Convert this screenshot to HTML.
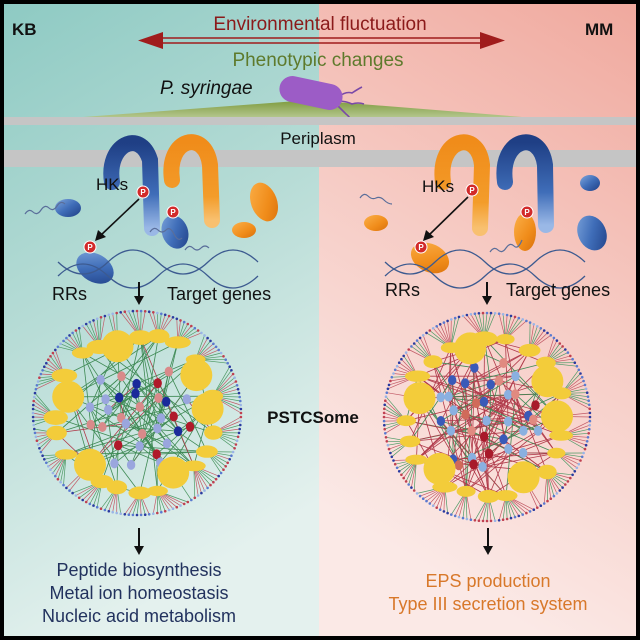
<!DOCTYPE html>
<html><head><meta charset="utf-8"><style>
html,body{margin:0;padding:0;background:#000}
svg{display:block}
text{font-family:"Liberation Sans",sans-serif}
</style></head><body>
<svg id="s" width="640" height="640" viewBox="0 0 640 640" xmlns="http://www.w3.org/2000/svg">
<defs>
<linearGradient id="gl" x1="0" y1="0" x2="0.3" y2="1"><stop offset="0" stop-color="#8ecac3"/><stop offset="0.5" stop-color="#b7dcd6"/><stop offset="1" stop-color="#e4f1ee"/></linearGradient>
<linearGradient id="gr" x1="1" y1="0" x2="0.7" y2="1"><stop offset="0" stop-color="#f0a99e"/><stop offset="0.5" stop-color="#f6cbc4"/><stop offset="1" stop-color="#fbe9e6"/></linearGradient>
<linearGradient id="blue" x1="0" y1="0" x2="1" y2="1"><stop offset="0" stop-color="#7fa6dc"/><stop offset="0.5" stop-color="#3f6db8"/><stop offset="1" stop-color="#1f3f85"/></linearGradient>
<linearGradient id="or" x1="0" y1="0" x2="1" y2="1"><stop offset="0" stop-color="#fbb04a"/><stop offset="0.6" stop-color="#f08c1a"/><stop offset="1" stop-color="#d8700c"/></linearGradient>
<linearGradient id="hkb" x1="0" y1="0" x2="0" y2="1"><stop offset="0" stop-color="#1f3f85"/><stop offset="0.6" stop-color="#3f6db8"/><stop offset="1" stop-color="#9ab8e6"/></linearGradient>
<linearGradient id="hko" x1="0" y1="0" x2="0" y2="1"><stop offset="0" stop-color="#f08c1a"/><stop offset="0.7" stop-color="#f39c2a"/><stop offset="1" stop-color="#f8c070"/></linearGradient>
<linearGradient id="mound" x1="0" y1="0" x2="0" y2="1"><stop offset="0" stop-color="#7d9a3c"/><stop offset="1" stop-color="#b6c890"/></linearGradient>
</defs>
<rect x="0" y="0" width="640" height="640" fill="#000"/>
<rect x="4" y="4" width="315" height="632" fill="url(#gl)"/>
<rect x="319" y="4" width="317" height="632" fill="url(#gr)"/>

<text x="12" y="35" font-size="17" font-weight="bold" fill="#111">KB</text>
<text x="585" y="35" font-size="17" font-weight="bold" fill="#111">MM</text>
<text x="320" y="30" font-size="19" fill="#8b1a1a" text-anchor="middle">Environmental fluctuation</text>
<g stroke="#a01c1c" stroke-width="1.6">
<line x1="158" y1="38" x2="485" y2="38"/><line x1="158" y1="43" x2="485" y2="43"/></g>
<polygon points="138,40.5 163,32 163,49" fill="#a01c1c"/>
<polygon points="505,40.5 480,32 480,49" fill="#a01c1c"/>
<text x="318" y="66" font-size="19" fill="#5e7a2c" text-anchor="middle">Phenotypic changes</text>
<text x="160" y="94" font-size="19" font-style="italic" fill="#111">P. syringae</text>
<polygon points="70,118 310,100 535,118" fill="url(#mound)"/>
<g fill="none" stroke="#7a4aa8" stroke-width="1.6">
<path d="M338,97 q8,-6 14,-4 q6,-4 10,-6"/><path d="M338,101 q8,0 14,3 q6,-2 12,0"/><path d="M336,104 q6,6 10,10 q4,3 6,8"/></g>
<rect x="279" y="80" width="64" height="26" rx="13" fill="#9c5cc6" transform="rotate(12 311 93)"/>
<rect x="4" y="117" width="632" height="8" fill="#c5c5c5"/>
<text x="318" y="144" font-size="17" fill="#111" text-anchor="middle">Periplasm</text>
<rect x="4" y="150" width="632" height="17" fill="#c5c5c5"/>

<!-- HKs -->
<path d="M112,182 C106,145 140,128 150,160 L152,228" fill="none" stroke="url(#hkb)" stroke-width="16" stroke-linecap="round"/>
<path d="M172,180 C166,138 205,128 210,165 L212,220" fill="none" stroke="url(#hko)" stroke-width="16" stroke-linecap="round"/>
<path d="M443,182 C437,138 478,128 482,165 L480,228" fill="none" stroke="url(#hko)" stroke-width="16" stroke-linecap="round"/>
<path d="M505,182 C499,138 540,128 545,165 L546,225" fill="none" stroke="url(#hkb)" stroke-width="16" stroke-linecap="round"/>
<text x="96" y="190" font-size="17" fill="#111">HKs</text>
<text x="422" y="192" font-size="17" fill="#111">HKs</text>

<!-- blobs -->
<g>
<ellipse cx="68" cy="208" rx="13" ry="9" fill="url(#blue)"/>
<ellipse cx="175" cy="232" rx="13" ry="17" fill="url(#blue)" transform="rotate(-20 175 232)"/>
<ellipse cx="264" cy="202" rx="13" ry="20" fill="url(#or)" transform="rotate(-20 264 202)"/>
<ellipse cx="244" cy="230" rx="12" ry="8" fill="url(#or)"/>
<ellipse cx="95" cy="268" rx="20" ry="14" fill="url(#blue)" transform="rotate(30 95 268)"/>
<ellipse cx="376" cy="223" rx="12" ry="8" fill="url(#or)"/>
<ellipse cx="430" cy="258" rx="20" ry="14" fill="url(#or)" transform="rotate(25 430 258)"/>
<ellipse cx="525" cy="232" rx="11" ry="19" fill="url(#or)"/>
<ellipse cx="590" cy="183" rx="10" ry="8" fill="url(#blue)"/>
<ellipse cx="592" cy="233" rx="14" ry="18" fill="url(#blue)" transform="rotate(-25 592 233)"/>
</g>
<!-- DNA -->
<g fill="none" stroke="#3c5a90" stroke-width="1.3">
<path d="M58,276 q25,-24 50,0 t50,0 t50,0 t50,0"/><path d="M58,262 q25,24 50,0 t50,0 t50,0 t50,0"/>
<path d="M385,276 q25,-24 50,0 t50,0 t50,0 t50,0"/><path d="M385,262 q25,24 50,0 t50,0 t50,0 t50,0"/>
</g>
<g fill="none" stroke="#5a6e9a" stroke-width="1.2">
<path d="M25,214 q4,-6 8,-2 t8,-2 t8,-2 t8,-2 t8,-2"/>
<path d="M150,232 q4,-6 8,-2 t8,0 t8,4 t8,4"/><path d="M185,250 q4,-6 8,-2 t8,0 t8,0"/>
<path d="M360,198 q4,-6 8,-2 t8,2 t8,2 t8,4"/><path d="M490,252 q4,-6 8,-2 t8,-2 t8,-2 t8,-6"/>
</g>
<!-- P circles -->
<g font-size="8" text-anchor="middle" font-weight="bold">
<g><circle cx="143" cy="192" r="6" fill="#d22a2a" stroke="#fff" stroke-width="1"/><text x="143" y="195" fill="#fff">P</text></g>
<g><circle cx="90" cy="247" r="6" fill="#d22a2a" stroke="#fff" stroke-width="1"/><text x="90" y="250" fill="#fff">P</text></g>
<g><circle cx="173" cy="212" r="6" fill="#d22a2a" stroke="#fff" stroke-width="1"/><text x="173" y="215" fill="#fff">P</text></g>
<g><circle cx="472" cy="190" r="6" fill="#d22a2a" stroke="#fff" stroke-width="1"/><text x="472" y="193" fill="#fff">P</text></g>
<g><circle cx="421" cy="247" r="6" fill="#d22a2a" stroke="#fff" stroke-width="1"/><text x="421" y="250" fill="#fff">P</text></g>
<g><circle cx="527" cy="212" r="6" fill="#d22a2a" stroke="#fff" stroke-width="1"/><text x="527" y="215" fill="#fff">P</text></g>
</g>
<g stroke="#111" stroke-width="1.6"><line x1="139" y1="199" x2="100" y2="236"/><line x1="468" y1="197" x2="428" y2="236"/></g>
<polygon points="95,241 98,230 106,237" fill="#111"/>
<polygon points="423,241 426,230 434,237" fill="#111"/>
<text x="52" y="300" font-size="18" fill="#111">RRs</text>
<text x="167" y="300" font-size="18" fill="#111">Target genes</text>
<text x="385" y="296" font-size="18" fill="#111">RRs</text>
<text x="506" y="296" font-size="18" fill="#111">Target genes</text>
<g stroke="#111" stroke-width="2"><line x1="139" y1="282" x2="139" y2="298"/><line x1="487" y1="282" x2="487" y2="298"/>
<line x1="139" y1="528" x2="139" y2="548"/><line x1="488" y1="528" x2="488" y2="548"/></g>
<polygon points="134,296 144,296 139,305" fill="#111"/><polygon points="482,296 492,296 487,305" fill="#111"/>
<polygon points="134,546 144,546 139,555" fill="#111"/><polygon points="483,546 493,546 488,555" fill="#111"/>
<g id="net"></g>
<text x="313" y="423" font-size="17" font-weight="bold" fill="#111" text-anchor="middle">PSTCSome</text>
<g font-size="18" text-anchor="middle" fill="#22325e">
<text x="139" y="576">Peptide biosynthesis</text><text x="139" y="599">Metal ion homeostasis</text><text x="139" y="622">Nucleic acid metabolism</text></g>
<g font-size="18" text-anchor="middle" fill="#d8782a">
<text x="488" y="587">EPS production</text><text x="488" y="610">Type III secretion system</text></g>
</svg>
<script>
(function(){
var seed=11;function r(){seed=(seed*16807)%2147483647;return (seed-1)/2147483646;}
var g=document.getElementById("net"),out="";
function net(cx,cy,rx,ry,redP){
 var hubs=[],i,n=24,inner=[];
 var sz=[1,0,0,0,1,0,0,0,0,1,0,0,0,1,0,0,0,1,0,0,0,0,1,0];
 for(i=0;i<n;i++){var a=i/n*Math.PI*2+(r()-0.5)*0.12,big=sz[i]==1,rr=big?0.68:(0.74+r()*0.06);
  hubs.push({x:cx+Math.cos(a)*rx*rr,y:cy+Math.sin(a)*ry*rr,w:big?16:(9+r()*4),h:big?16:(5+r()*2.5)});}
 var dots="",lines="";
 for(i=0;i<160;i++){var a=i/160*Math.PI*2;var px=cx+Math.cos(a)*rx,py=cy+Math.sin(a)*ry;
  var best=hubs[0],bd=1e9;hubs.forEach(function(h){var d=(h.x-px)*(h.x-px)+(h.y-py)*(h.y-py);if(d<bd){bd=d;best=h;}});
  var c=r()<0.5?"#c25a66":"#4f9a66";lines+='<line x1="'+px.toFixed(1)+'" y1="'+py.toFixed(1)+'" x2="'+best.x.toFixed(1)+'" y2="'+best.y.toFixed(1)+'" stroke="'+c+'" stroke-width="0.7"/>';
  var dc=["#5a7ad0","#c04050","#9ab4e6","#2a3aa0"][Math.floor(r()*4)];dots+='<circle cx="'+px.toFixed(1)+'" cy="'+py.toFixed(1)+'" r="1.3" fill="'+dc+'"/>';}
 for(var gx=-3;gx<=3;gx++)for(var gy=-3;gy<=3;gy++){var x=(gx+(r()-0.5)*0.8)*0.17,y=(gy+(r()-0.5)*0.8)*0.17;if(x*x+y*y<0.3)inner.push({x:cx+x*rx,y:cy+y*ry});}
 var all=hubs.concat(inner),el="";
 for(i=0;i<(redP>0.5?170:120);i++){var p=all[Math.floor(r()*all.length)],q=all[Math.floor(r()*all.length)];
  var c=r()<redP?"#b03a4a":"#3f8a55";el+='<line x1="'+p.x.toFixed(1)+'" y1="'+p.y.toFixed(1)+'" x2="'+q.x.toFixed(1)+'" y2="'+q.y.toFixed(1)+'" stroke="'+c+'" stroke-width="0.8"/>';}
 var nd="";inner.forEach(function(p){var cs=redP>0.5?["#a81a2a","#e08a80","#8ab0e0","#3a5ab8","#d06a5a","#8ab0e0"]:["#9aa6de","#d98a8a","#9aa6de","#1a2a9a","#b01a2a","#9aa6de"];
  nd+='<ellipse cx="'+p.x.toFixed(1)+'" cy="'+p.y.toFixed(1)+'" rx="4.2" ry="5" fill="'+cs[Math.floor(r()*cs.length)]+'"/>';});
 hubs.forEach(function(h){nd+='<ellipse cx="'+h.x.toFixed(1)+'" cy="'+h.y.toFixed(1)+'" rx="'+h.w.toFixed(1)+'" ry="'+h.h.toFixed(1)+'" fill="#f3cc3a"/>';});
 out+=lines+dots+el+nd;}
net(137,413,104,102,0.15);
net(487,417,103,104,0.75);
g.innerHTML=out;
})();
</script>
</body></html>
